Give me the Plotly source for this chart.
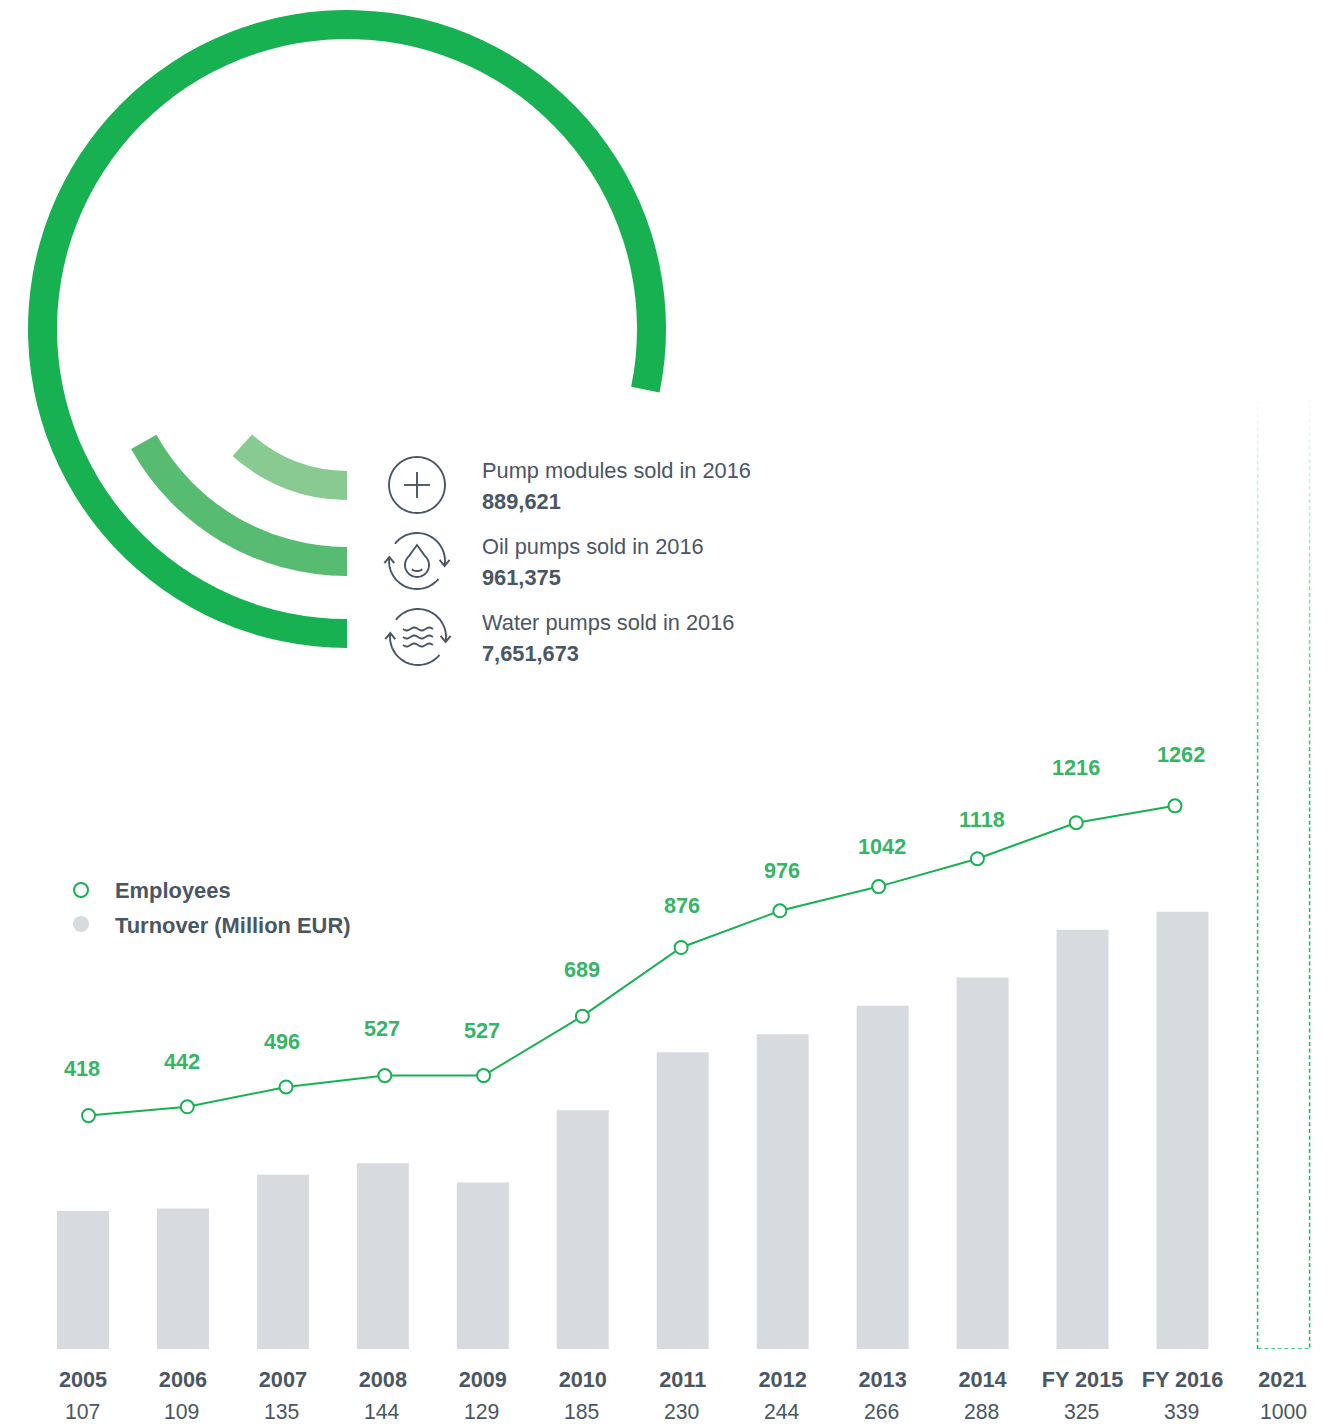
import math
import plotly.graph_objects as go

# ---- Data ----
PERIODS = ["2005", "2006", "2007", "2008", "2009", "2010", "2011", "2012", "2013", "2014",
           "FY 2015", "FY 2016", "2021"]
TURNOVER = [107, 109, 135, 144, 129, 185, 230, 244, 266, 288, 325, 339, 1000]
EMPLOYEES = [418, 442, 496, 527, 527, 689, 876, 976, 1042, 1118, 1216, 1262]

PRODUCTS = ["Pump modules sold in 2016", "Oil pumps sold in 2016", "Water pumps sold in 2016"]
SOLD = [889621, 961375, 7651673]
RING_FULL_SCALE = [7625300, 5678400, 9785400]

# ---- Styles and page geometry ----
W, H = 1335, 1426
FONT = "Liberation Sans, Arial, sans-serif"
TEXT = "#4a5664"
GREEN = "#17b152"
LABEL_GREEN = "#35b565"
BAR_GREY = "#d7dade"
ICON = "#4a5664"
DASH_GREEN = "#1cc062"
RING_COLORS = ["#89ca92", "#57bb71", GREEN]
RING_RADII = [(142, 171), (218, 247), (290, 319)]
RING_CX, RING_CY = 347, 329
BASELINE = 1349

# Distance in px between each employee point and its figure
LABEL_LIFT = [46.6, 45, 45, 46.6, 44.6, 47, 42.5, 40, 39.6, 38.7, 55.7, 51.8]
LABEL_NUDGE = [-1, -1, -1, -1, -1, -1, -1, -1, -1, -1, -7, -1]


def px(x):
    return x / W


def py(y):
    return 1 - y / H


def path_pts(points, close=False):
    body = " L ".join(f"{px(x):.5f},{py(y):.5f}" for x, y in points)
    return "M " + body + (" Z" if close else "")


def arc_pts(cx, cy, r, a0, a1, n=40):
    """Points on a circle; angles in degrees, clockwise from 12 o'clock."""
    pts = []
    for i in range(n + 1):
        a = math.radians(a0 + (a1 - a0) * i / n)
        pts.append((cx + r * math.sin(a), cy - r * math.cos(a)))
    return pts


def stroke(path, width=1.9, color=ICON):
    return dict(type="path", xref="paper", yref="paper", path=path,
                line=dict(color=color, width=width), layer="above")


def cycle_arrows(cx, cy):
    """Two curved arrows chasing each other round an icon."""
    r = 28
    items = [stroke(path_pts(arc_pts(cx, cy, r, -52, 100))),
             stroke(path_pts(arc_pts(cx, cy, r, 130, 278)))]
    right = (cx + 27.6, cy + 4.9)
    left = (cx - 27.7, cy - 3.9)
    items.append(stroke(path_pts([(right[0] - 5, right[1] - 6), right, (right[0] + 5, right[1] - 6)])))
    items.append(stroke(path_pts([(left[0] - 5, left[1] + 6), left, (left[0] + 5, left[1] + 6)])))
    return items


def wave(x0, x1, y, amp=1.5, n=36):
    pts = []
    for i in range(n + 1):
        t = i / n
        pts.append((x0 + (x1 - x0) * t, y + amp * math.sin(t * 4 * math.pi)))
    return pts


shapes = []

# Plus icon
cx, cy = 417, 485
shapes.append(stroke(path_pts(arc_pts(cx, cy, 28, 0, 360, 72), close=True)))
shapes.append(stroke(path_pts([(cx - 13, cy), (cx + 13, cy)])))
shapes.append(stroke(path_pts([(cx, cy - 13), (cx, cy + 13)])))

# Oil drop icon
cx, cy = 417, 561
shapes += cycle_arrows(cx, cy)
body = arc_pts(cx, cy + 4, 12, 42, 318, 40)
shapes.append(stroke(path_pts([(cx, cy - 16)] + body, close=True)))
shapes.append(stroke(path_pts(arc_pts(cx, cy + 1, 9, 145, 215, 12))))

# Water icon
cx, cy = 418, 637
shapes += cycle_arrows(cx, cy)
for dy in (-8, 0, 8):
    shapes.append(stroke(path_pts(wave(cx - 15, cx + 15, cy + dy))))

# Legend swatches
shapes.append(dict(type="circle", xref="paper", yref="paper", x0=px(74), x1=px(88), y0=py(897), y1=py(883),
                   line=dict(color=GREEN, width=2), fillcolor="white"))
shapes.append(dict(type="circle", xref="paper", yref="paper", x0=px(73), x1=px(89), y0=py(932), y1=py(916),
                   line=dict(width=0), fillcolor=BAR_GREY))

# Dashed outline of the 2021 target column, sized by its value
target = len(PERIODS) - 1
half_width = 0.26
column_offset = 0.012
shapes.append(dict(type="rect", xref="x", yref="y",
                   x0=target - half_width + column_offset, x1=target + half_width + column_offset,
                   y0=0, y1=TURNOVER[target],
                   line=dict(color=DASH_GREEN, width=1.6, dash="4px,2.7px"), fillcolor="rgba(0,0,0,0)"))

# White veil that fades the column out towards the top of the page
VEIL_TOP, VEIL_BOTTOM, BAND = 385, 800, 5
shapes.append(dict(type="rect", xref="paper", yref="paper", x0=px(1250), x1=px(1320),
                   y0=py(VEIL_TOP), y1=1, fillcolor="white", line=dict(width=0)))
for y in range(VEIL_TOP, VEIL_BOTTOM, BAND):
    alpha = 1 - (y + BAND / 2 - VEIL_TOP) / (VEIL_BOTTOM - VEIL_TOP)
    shapes.append(dict(type="rect", xref="paper", yref="paper", x0=px(1250), x1=px(1320),
                       y0=py(y + BAND), y1=py(y), fillcolor=f"rgba(255,255,255,{alpha:.3f})",
                       line=dict(width=0)))

annotations = []


def note(text, x, y, size=21.8, color=TEXT, bold=False, anchor="left"):
    annotations.append(dict(text=text, xref="paper", yref="paper", x=px(x), y=py(y),
                            xanchor=anchor, yanchor="middle", showarrow=False,
                            font=dict(family=FONT, size=size, color=color,
                                      weight=700 if bold else 400)))


note("Employees", 113, 890, size=21.9, bold=True)
note("Turnover (Million EUR)", 113, 925, size=21.9, bold=True)
for name, sold, y in zip(PRODUCTS, SOLD, (470, 546, 622)):
    note(name, 480, y)
    note(f"{sold:,}", 480, y + 31.5, bold=True)

# Employee figures above the line
for i, value in enumerate(EMPLOYEES):
    annotations.append(dict(text=str(value), xref="x", yref="y2", x=i, y=value,
                            xshift=LABEL_NUDGE[i], yshift=LABEL_LIFT[i], yanchor="middle",
                            showarrow=False,
                            font=dict(family=FONT, size=21.7, color=LABEL_GREEN, weight=700)))

# Turnover figures under the period names
for i, value in enumerate(TURNOVER):
    annotations.append(dict(text=str(value), xref="x", yref="y", x=i, y=0, yshift=-62,
                            xshift=1 if i == target else -1,
                            yanchor="middle", showarrow=False,
                            font=dict(family=FONT, size=21.2, color=TEXT)))

fig = go.Figure()

# Concentric sales rings
for sold, total, color, (inner, outer) in zip(SOLD, RING_FULL_SCALE, RING_COLORS, RING_RADII):
    fig.add_trace(go.Pie(
        values=[sold, total - sold], sort=False, direction="clockwise", rotation=180,
        hole=inner / outer, textinfo="none", hoverinfo="skip", showlegend=False,
        marker=dict(colors=[color, "rgba(0,0,0,0)"], line=dict(width=0)),
        domain=dict(x=[px(RING_CX - outer), px(RING_CX + outer)],
                    y=[py(RING_CY + outer), py(RING_CY - outer)]),
    ))

# Turnover columns; the 2021 target is only outlined
bar_colors = [BAR_GREY] * (len(PERIODS) - 1) + ["rgba(0,0,0,0)"]
fig.add_trace(go.Bar(x=PERIODS, y=TURNOVER, marker=dict(color=bar_colors, line=dict(width=0)),
                     name="Turnover (Million EUR)", showlegend=False, xaxis="x", yaxis="y"))

# Employee line on its own scale
fig.add_trace(go.Scatter(x=PERIODS[:len(EMPLOYEES)], y=EMPLOYEES, mode="lines+markers",
                         line=dict(color=GREEN, width=2),
                         marker=dict(size=13, color="white", line=dict(color=GREEN, width=2)),
                         name="Employees", showlegend=False, xaxis="x2", yaxis="y2"))

bar_scale = 1.29
emp_scale, emp_zero = 0.367, 1269
bar_step, bar_first = 99.95, 83.0
line_step, line_first = 98.77, 88.5

fig.update_layout(
    width=W, height=H, margin=dict(l=0, r=0, t=0, b=0), autosize=False,
    paper_bgcolor="white", plot_bgcolor="white", bargap=0.48, showlegend=False,
    shapes=shapes, annotations=annotations,
    xaxis=dict(type="category", categoryorder="array", categoryarray=PERIODS,
               range=[-bar_first / bar_step, (W - bar_first) / bar_step],
               showgrid=False, zeroline=False, showline=False, automargin=False,
               ticks="outside", ticklen=11, tickcolor="rgba(0,0,0,0)",
               tickfont=dict(family=FONT, size=21.7, color=TEXT, weight=700),
               tickangle=0, fixedrange=True),
    yaxis=dict(domain=[py(BASELINE), 1], range=[0, BASELINE / bar_scale], visible=False,
               fixedrange=True),
    xaxis2=dict(type="category", categoryorder="array", categoryarray=PERIODS, overlaying="x",
                range=[-line_first / line_step, (W - line_first) / line_step], visible=False,
                fixedrange=True),
    yaxis2=dict(domain=[py(BASELINE), 1], overlaying="y",
                range=[(emp_zero - BASELINE) / emp_scale, emp_zero / emp_scale], visible=False,
                fixedrange=True),
)

fig.write_html("out.html", config=dict(displayModeBar=False))
